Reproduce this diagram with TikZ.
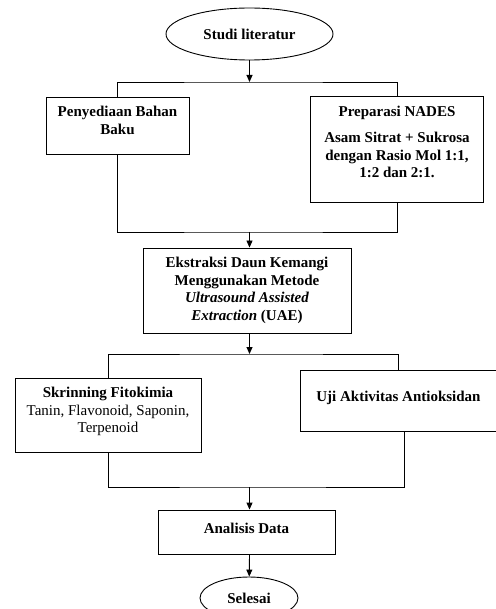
\documentclass[tikz,border=0pt]{standalone}
\usepackage{fontspec}
\setmainfont{Liberation Serif}
\usetikzlibrary{arrows.meta,shapes.geometric}
\newcommand{\boxtext}[4]{\parbox[c][#2][t]{#1}{\centering\vspace{#3}#4}}

\begin{document}
\begin{tikzpicture}[x=1pt,y=-1pt,>={Stealth[length=7pt,width=6pt,inset=0pt]},
                    line width=0.9pt,font=\fontsize{15}{17.5}\selectfont\bfseries,
                    box/.style={draw,rectangle,inner sep=0pt},
                    oval/.style={draw,ellipse,inner sep=0pt}]
                  \useasboundingbox (0,0) rectangle (495,609);

                  \node[oval, minimum width=167pt, minimum height=52pt] (studi)     at (249.5,34)  {Studi literatur};
                  \node[box]	(bahan)     at (117.5,125.5) {\boxtext{143pt}{57pt}{9.5pt}{Penyediaan Bahan\\Baku}};
                  \node[box]	(nades)     at (397,149)     {\boxtext{173pt}{106pt}{10pt}{Preparasi NADES\\[9pt]Asam Sitrat + Sukrosa\\dengan Rasio Mol 1:1,\\1:2 dan 2:1.}};
                  \node[box]	(ekstraksi) at (247,290.5)   {\boxtext{208pt}{85pt}{9.5pt}{Ekstraksi Daun Kemangi\\Menggunakan Metode\\\textit{Ultrasound Assisted}\\\textit{Extraction} (UAE)}};
                  \node[box]	(skrining)  at (108,415)     {\boxtext{186pt}{74pt}{9.5pt}{Skrinning Fitokimia\\\mdseries Tanin, Flavonoid, Saponin,\\Terpenoid}};
                  \node[box]	(uji)       at (398.5,400.5) {\boxtext{197pt}{61pt}{21pt}{Uji Aktivitas Antioksidan}};
                  \node[box]	(analisis)  at (246.5,532)   {\boxtext{177pt}{44pt}{13pt}{Analisis Data}};
                  \node[oval, minimum width=98pt, minimum height=42pt] (selesai) at (249,598) {Selesai};

                  \coordinate (j1) at (249.5,82);
                  \coordinate (j2) at (249.5,232);
                  \coordinate (j3) at (249.5,354);
                  \coordinate (j4) at (249.5,487);

                      \draw[->] (studi) -- (j1);
                      \draw (bahan.north) |- (j1) -| (nades.north);
                      \draw (bahan.south) |- (j2) -| (nades.south);
                      \draw[->] (j2) -- (j2 |- ekstraksi.north);
                      \draw[->] (j3 |- ekstraksi.south) -- (j3);
                      \draw (skrining.north) |- (j3) -| (uji.north);
                      \draw (skrining.south) |- (j4) -| ([xshift=6pt]uji.south);
                      \draw[->] (j4) -- (j4 |- analisis.north);
                      \draw[->] (j4 |- analisis.south) -- (selesai);
        \end{tikzpicture}
\end{document}
